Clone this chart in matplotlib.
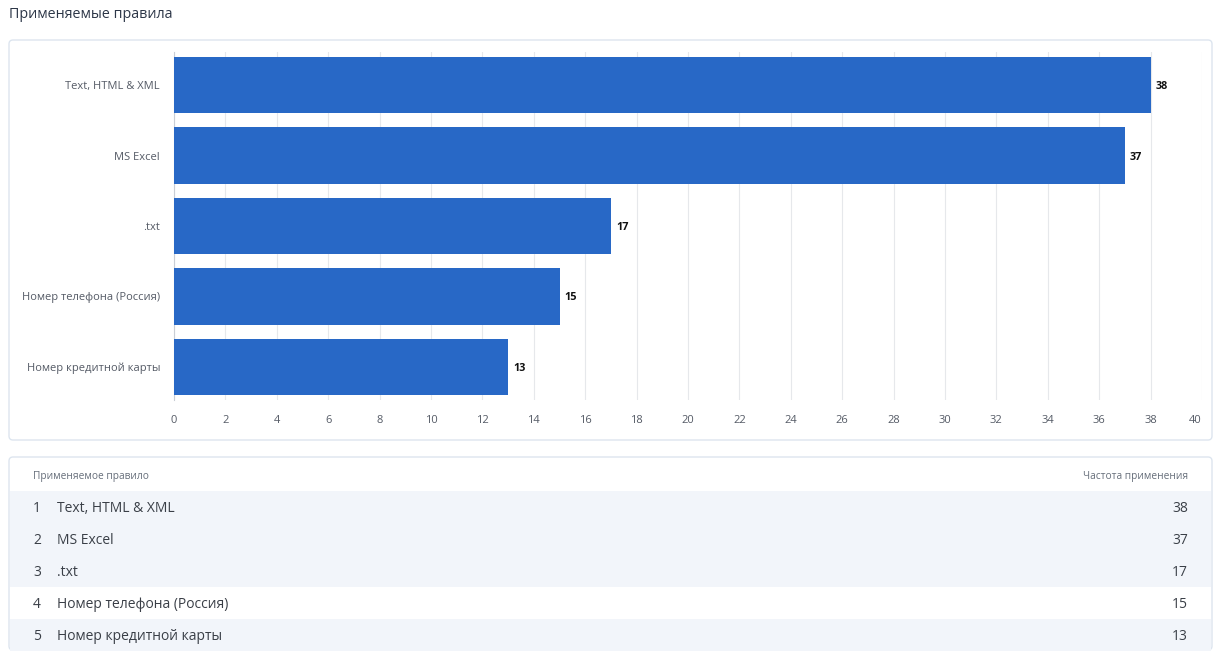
import numpy as np
import matplotlib.pyplot as plt
from matplotlib.patches import FancyBboxPatch, Rectangle

plt.rcParams['font.family'] = ['Open Sans', 'DejaVu Sans']

title = 'Применяемые правила'
rules = ['Text, HTML & XML', 'MS Excel', '.txt', 'Номер телефона (Россия)', 'Номер кредитной карты']
counts = [38, 37, 17, 15, 13]
col_headers = ['Применяемое правило', 'Частота применения']
shaded_rows = [True, True, True, False, True]

W, H = 1221, 651
fig = plt.figure(figsize=(W / 100, H / 100), dpi=100)

# background layer in pixel coordinates
bg = fig.add_axes([0, 0, 1, 1])
bg.set_xlim(0, W)
bg.set_ylim(H, 0)
bg.axis('off')

bg.text(9, 14, title, fontsize=10.3, color='#2d3748', va='center', ha='left')

for y0, y1 in [(40, 440), (457, 650)]:
    bg.add_patch(FancyBboxPatch((9, y0), 1203, y1 - y0,
                                boxstyle='round,pad=0,rounding_size=4',
                                fc='white', ec='#dde5ef', lw=1))

# table
bg.text(33, 476, col_headers[0], fontsize=7.3, color='#666e7a', va='center')
bg.text(1188, 476, col_headers[1], fontsize=7.3, color='#666e7a', va='center', ha='right')
row_h = 32
for i, (name, val) in enumerate(zip(rules, counts)):
    yc = 507 + i * row_h
    if shaded_rows[i]:
        bg.add_patch(Rectangle((10, yc - row_h / 2), 1201, row_h, fc='#f2f5fa', ec='none'))
    ty = yc + 1.5
    bg.text(33, ty, str(i + 1), fontsize=10, color='#3a3f47', va='center')
    bg.text(57, ty, name, fontsize=10, color='#3a3f47', va='center')
    bg.text(1188, ty, str(val), fontsize=10, color='#3a3f47', va='center', ha='right')

# bar chart
ax_l, ax_r, ax_t, ax_b = 174, 1202, 52, 400
ax = fig.add_axes([ax_l / W, 1 - ax_b / H, (ax_r - ax_l) / W, (ax_b - ax_t) / H])
ax.patch.set_alpha(0)
y = np.arange(len(rules))
bars = ax.barh(y, counts, height=0.8, color='#2868c6', zorder=3)
ax.set_xlim(0, 40)
ax.set_ylim(4.47, -0.47)
ax.set_xticks(np.arange(0, 41, 2))
ax.set_yticks(y)
ax.set_yticklabels(rules)
ax.grid(axis='x', color='#e6e8eb', lw=0.8, zorder=0)
for s in ['top', 'right', 'bottom']:
    ax.spines[s].set_visible(False)
ax.spines['left'].set_color('#c9ced6')
ax.spines['left'].set_linewidth(0.8)
ax.tick_params(axis='x', length=0, labelsize=8, labelcolor='#555b66', pad=11)
ax.tick_params(axis='y', length=0, labelsize=8, labelcolor='#555b66', pad=10)
ax.get_xticklabels()[-1].set_horizontalalignment('right')
for b, v in zip(bars, counts):
    ax.text(v + 0.2, b.get_y() + b.get_height() / 2, str(v), fontsize=7.8,
            fontweight='bold', color='#111111', va='center_baseline', ha='left')

fig.savefig('out.png', dpi=100)
